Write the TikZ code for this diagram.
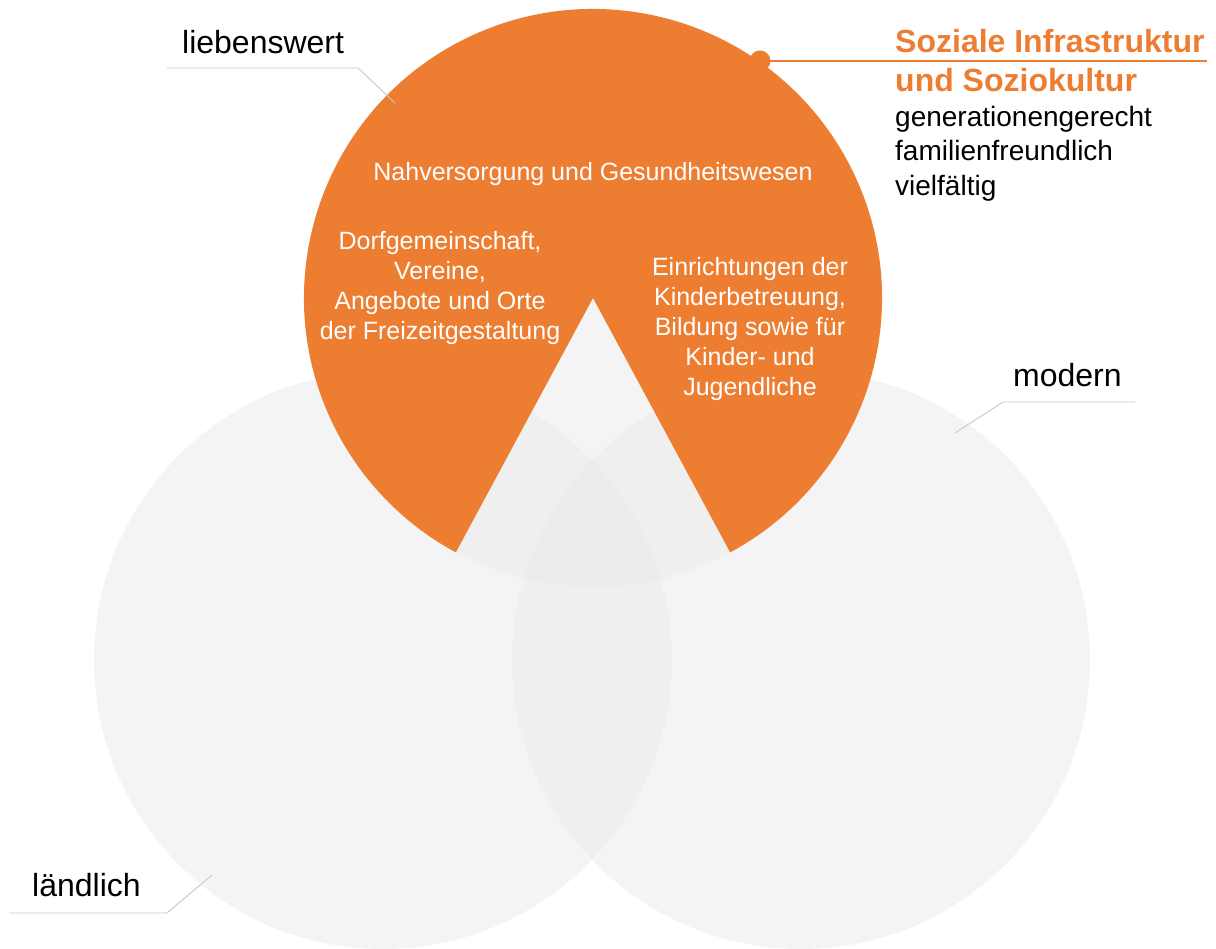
\documentclass[tikz,border=0pt]{standalone}
\usepackage{fontspec}
\setmainfont{Liberation Sans}
\definecolor{orng}{HTML}{ED7D31}
\definecolor{ringgray}{RGB}{235,235,235}
\definecolor{leadgray}{RGB}{200,200,200}
\begin{document}
\begin{tikzpicture}[x=1pt,y=1pt,
  ring/.style={fill=ringgray,fill opacity=0.5,draw=none},
  lbl/.style={font=\fontsize{32}{38}\selectfont,text=black,inner sep=0pt,anchor=base west},
  leader/.style={draw=leadgray,line width=0.9pt},
  inner/.style={font=\fontsize{25}{30}\selectfont,text=white,align=center,inner sep=0pt}]
\useasboundingbox (0,0) rectangle (1216,949);
\fill[white] (0,0) rectangle (1216,949);
% gray circles
\coordinate (ct) at (593,651);
\coordinate (cl) at (383,289);
\coordinate (cr) at (801,289);
\fill[ring] (ct) circle[radius=289];
\fill[ring] (cl) circle[radius=289];
\fill[ring] (cr) circle[radius=289];
% orange pie
\fill[orng] (ct) -- ++(-61.66:289) arc[start angle=-61.66,end angle=241.66,radius=289] -- cycle;
% dot and line
\fill[orng] (760,888) circle[radius=10.5] coordinate (dot);
\coordinate (lineend) at (1207,888);
\draw[orng,line width=1.5pt] (dot) -- (lineend);
% inner texts
\node[inner,anchor=base] (nah) at (593,768) {Nahversorgung und Gesundheitswesen};
\node[inner] (dorf) at (440,660.5) {Dorfgemeinschaft,\\Vereine,\\Angebote und Orte\\der Freizeitgestaltung};
\node[inner] (einr) at (750,620) {Einrichtungen der\\Kinderbetreuung,\\Bildung sowie für\\Kinder- und\\Jugendliche};
% title block
\node[font=\bfseries\fontsize{32}{39}\selectfont,text=orng,align=left,inner sep=0pt,anchor=north west] (title) at (895,919.5) {Soziale Infrastruktur\\und Soziokultur};
\node[font=\fontsize{28}{34.5}\selectfont,align=left,inner sep=0pt,anchor=north west] (adj) at (895,843) {generationengerecht\\familienfreundlich\\vielfältig};
% labels
\node[lbl] (lieb) at (182,895) {liebenswert};
\node[lbl] (mod) at (1013,562) {modern};
\node[lbl] (land) at (32,52) {ländlich};
% leader lines
\coordinate (l1) at (167,881); \coordinate (l2) at (358,881); \coordinate (l3) at (395,846);
\coordinate (m1) at (1135,547); \coordinate (m2) at (1003,547); \coordinate (m3) at (955,516);
\coordinate (d1) at (9,36); \coordinate (d2) at (167,36); \coordinate (d3) at (212,74);
\draw[leader] (l1) -- (l2) -- (l3);
\draw[leader] (m1) -- (m2) -- (m3);
\draw[leader] (d1) -- (d2) -- (d3);
\end{tikzpicture}
\end{document}
